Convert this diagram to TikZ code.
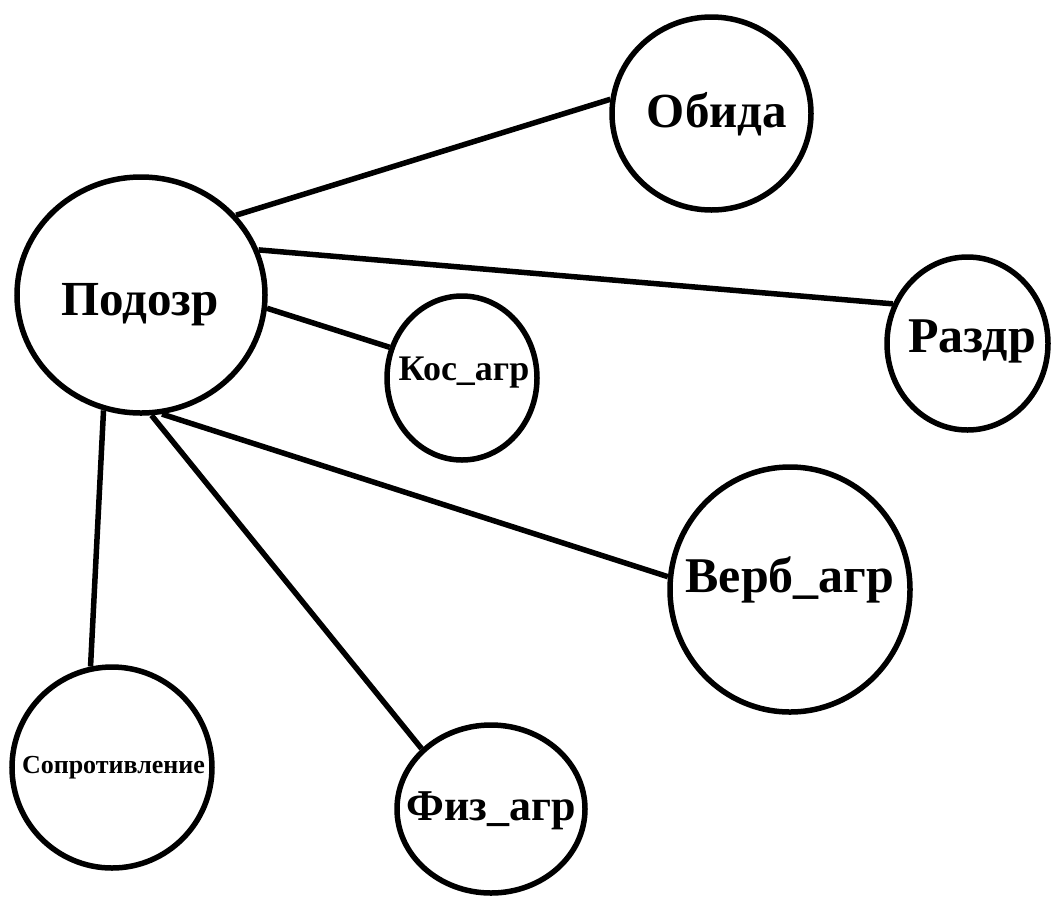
\documentclass[tikz,border=0pt]{standalone}
\usepackage{fontspec}
\setmainfont{Liberation Serif}
\usetikzlibrary{shapes.geometric}

\tikzset{
  bubble/.style={draw=black, line width=5.5pt, ellipse, inner sep=0pt, fill=white},
  link/.style={draw=black, line width=5.5pt},
  lbl/.style={anchor=base, inner sep=0pt, font=\bfseries},
}

\begin{document}
\begin{tikzpicture}[x=1pt, y=-1pt]
  \fill[white] (0,0) rectangle (1054,903);
  \useasboundingbox (0,0) rectangle (1054,903);

  % circles
  \node[bubble, minimum width=248pt, minimum height=236pt] (podozr) at (141,295) {};
  \node[bubble, minimum width=199pt, minimum height=193pt] (obida)  at (711.5,113.5) {};
  \node[bubble, minimum width=161pt, minimum height=173pt] (razdr)  at (967.5,343.5) {};
  \node[bubble, minimum width=150pt, minimum height=164pt] (kos)    at (462,378) {};
  \node[bubble, minimum width=240pt, minimum height=245pt] (verb)   at (790,589.5) {};
  \node[bubble, minimum width=200pt, minimum height=201pt] (sopr)   at (112,767.5) {};
  \node[bubble, minimum width=188pt, minimum height=168pt] (fiz)    at (491,809) {};

  % connectors
  \draw[link] (podozr.40.4)   -- (obida.172.3);
  \draw[link] (podozr.21.2)   -- (razdr.152.4);
  \draw[link] (podozr.-6.8)   -- (kos.157.9);
  \draw[link] (podozr.-80.9)  -- (verb.174.6);
  \draw[link] (podozr.-85.7)  -- (fiz.139.7);
  \draw[link] (podozr.-108.3) -- (sopr.102.2);

  % labels
  \node[lbl, font=\bfseries\fontsize{49}{49}\selectfont] (podozr-t) at (140,315) {Подозр};
  \node[lbl, font=\bfseries\fontsize{49}{49}\selectfont] (obida-t)  at (717,127) {Обида};
  \node[lbl, font=\bfseries\fontsize{50}{50}\selectfont] (razdr-t)  at (972,352) {Раздр};
  \node[lbl, font=\bfseries\fontsize{36}{36}\selectfont] (kos-t)    at (464,380) {Кос\_агр};
  \node[lbl, font=\bfseries\fontsize{50}{50}\selectfont] (verb-t)   at (790,592) {Верб\_агр};
  \node[lbl, font=\bfseries\fontsize{26}{26}\selectfont] (sopr-t)   at (113.5,773) {Сопротивление};
  \node[lbl, font=\bfseries\fontsize{44}{44}\selectfont] (fiz-t)    at (491,820) {Физ\_агр};
\end{tikzpicture}
\end{document}
